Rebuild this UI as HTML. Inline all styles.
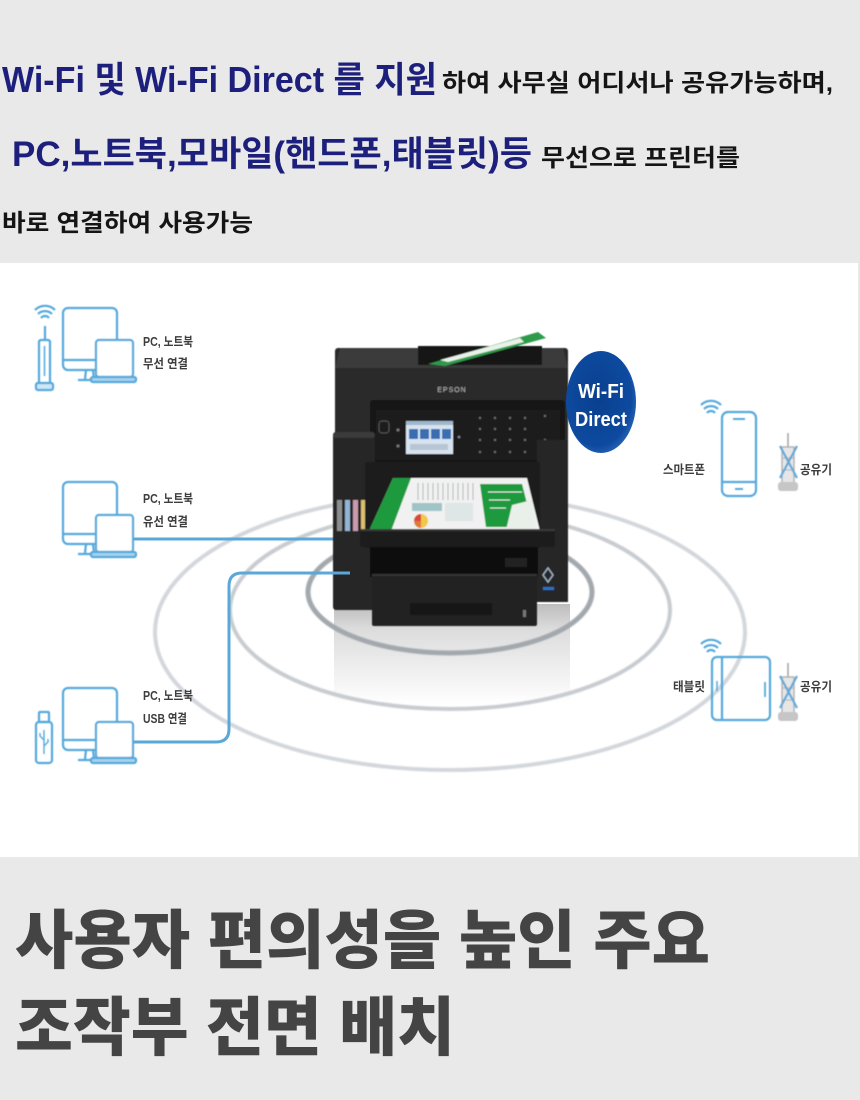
<!DOCTYPE html>
<html>
<head>
<meta charset="utf-8">
<style>
  html,body{margin:0;padding:0;background:#e9e9e9;}
  body{width:860px;height:1100px;overflow:hidden;position:relative;}
  svg{position:absolute;left:0;top:0;}
  .kr{font-family:"Liberation Sans","Noto Sans CJK KR","NanumGothic",sans-serif;}
</style>
</head>
<body>
<svg width="860" height="1100" viewBox="0 0 860 1100" xmlns="http://www.w3.org/2000/svg">
  <defs>
    <linearGradient id="refl" x1="0" y1="0" x2="0" y2="1">
      <stop offset="0" stop-color="#bdbdbd"/>
      <stop offset="0.25" stop-color="#dcdcdc"/>
      <stop offset="1" stop-color="#ffffff"/>
    </linearGradient>
    <radialGradient id="badge" cx="0.45" cy="0.45" r="0.6">
      <stop offset="0" stop-color="#0a3f8e"/>
      <stop offset="0.8" stop-color="#0d4a9f"/>
      <stop offset="1" stop-color="#2a67b8"/>
    </radialGradient>
    <filter id="soft" x="-5%" y="-5%" width="110%" height="110%">
      <feGaussianBlur stdDeviation="0.9"/>
    </filter>
    <filter id="soft2" x="-5%" y="-5%" width="110%" height="110%">
      <feGaussianBlur stdDeviation="0.5"/>
    </filter>
  </defs>

  <!-- backgrounds -->
  <rect x="0" y="0" width="860" height="1100" fill="#e9e9e9"/>
  <rect x="0" y="263" width="858" height="594" fill="#ffffff"/>

  <!-- TOP TEXT -->
  <g class="kr" font-weight="700">
    <text x="2" y="92" font-size="36" fill="#1d1f7c" textLength="435" lengthAdjust="spacingAndGlyphs">Wi-Fi 및 Wi-Fi Direct 를 지원</text>
    <text x="442" y="91" font-size="24" fill="#151515" textLength="391" lengthAdjust="spacingAndGlyphs">하여 사무실 어디서나 공유가능하며,</text>
    <text x="12" y="166" font-size="35" fill="#1d1f7c" textLength="520" lengthAdjust="spacingAndGlyphs">PC,노트북,모바일(핸드폰,태블릿)등</text>
    <text x="541" y="166" font-size="24" fill="#151515" textLength="199" lengthAdjust="spacingAndGlyphs">무선으로 프린터를</text>
    <text x="2" y="231" font-size="24" fill="#151515" textLength="251" lengthAdjust="spacingAndGlyphs">바로 연결하여 사용가능</text>
  </g>

  <!-- reflection under printer -->
  <rect x="334" y="604" width="236" height="100" fill="url(#refl)"/>

  <!-- rings -->
  <g fill="none" filter="url(#soft)">
    <ellipse cx="450" cy="632" rx="295" ry="138" stroke="#d3d7db" stroke-width="4"/>
    <ellipse cx="450" cy="610" rx="220" ry="99" stroke="#c8ccd0" stroke-width="4"/>
    <ellipse cx="450" cy="592" rx="142" ry="61" stroke="#a3a8ad" stroke-width="5"/>
  </g>

  <!-- wired cable -->
  <line x1="133" y1="539" x2="336" y2="539" stroke="#5aa8d8" stroke-width="3"/>

  <!-- PRINTER -->
  <g filter="url(#soft2)">
    <!-- upper body -->
    <rect x="335" y="348" width="233" height="96" rx="3" fill="#2a2a2a"/>
    <path d="M340 348 L563 348 L568 368 L335 368 Z" fill="#3b3b3b"/>
    <!-- ADF slot with paper -->
    <rect x="418" y="346" width="124" height="19" fill="#141414"/>
    <polygon points="428,364 538,332 546,338 445,366" fill="#2f9b4b"/>
    <polygon points="440,360 520,338 524,342 448,362" fill="#e8f2e8"/>
    <text x="452" y="392" font-family="Liberation Sans, sans-serif" font-size="7" fill="#b8b8b8" text-anchor="middle" letter-spacing="1">EPSON</text>
    <!-- control panel recess -->
    <rect x="370" y="400" width="195" height="64" rx="3" fill="#161616"/>
    <rect x="376" y="410" width="184" height="50" rx="2" fill="#1f1f1f"/>
    <rect x="379" y="421" width="10" height="12" rx="3" fill="none" stroke="#555" stroke-width="1"/>
    <circle cx="398" cy="430" r="1.5" fill="#777"/>
    <circle cx="398" cy="446" r="1.5" fill="#777"/>
    <!-- screen -->
    <rect x="406" y="421" width="47" height="33" fill="#d7e4ef"/>
    <rect x="406" y="421" width="47" height="4" fill="#9fb6cc"/>
    <rect x="409" y="429" width="9" height="10" fill="#3a6db3"/>
    <rect x="420" y="429" width="9" height="10" fill="#3a6db3"/>
    <rect x="431" y="429" width="9" height="10" fill="#3a6db3"/>
    <rect x="442" y="429" width="9" height="10" fill="#3a6db3"/>
    <rect x="410" y="444" width="38" height="6" fill="#b8c6d3"/>
    <circle cx="459" cy="437" r="1.3" fill="#888"/>
    <!-- keypad dots -->
    <g fill="#6a6a6a">
      <circle cx="480" cy="418" r="1.2"/><circle cx="495" cy="418" r="1.2"/><circle cx="510" cy="418" r="1.2"/><circle cx="525" cy="418" r="1.2"/><circle cx="545" cy="416" r="1.2"/>
      <circle cx="480" cy="429" r="1.2"/><circle cx="495" cy="429" r="1.2"/><circle cx="510" cy="429" r="1.2"/><circle cx="525" cy="429" r="1.2"/>
      <circle cx="480" cy="440" r="1.2"/><circle cx="495" cy="440" r="1.2"/><circle cx="510" cy="440" r="1.2"/><circle cx="525" cy="440" r="1.2"/><circle cx="545" cy="440" r="1.2"/>
      <circle cx="480" cy="452" r="1.2"/><circle cx="495" cy="452" r="1.2"/><circle cx="510" cy="452" r="1.2"/><circle cx="525" cy="452" r="1.2"/><circle cx="545" cy="452" r="1.2"/>
    </g>
    <!-- left ink tank -->
    <rect x="333" y="432" width="42" height="178" rx="3" fill="#262626"/>
    <rect x="333" y="432" width="42" height="6" rx="3" fill="#3a3a3a"/>
    <rect x="337" y="500" width="5" height="31" fill="#8d8d8d"/>
    <rect x="345" y="500" width="5" height="31" fill="#93b4d2"/>
    <rect x="353" y="500" width="5" height="31" fill="#c89aae"/>
    <rect x="361" y="500" width="5" height="31" fill="#d8be6e"/>
    <!-- right side panel -->
    <rect x="537" y="440" width="31" height="162" fill="#262626"/>
    <path d="M548 568 L553 575 L548 582 L543 575 Z" fill="none" stroke="#9fb4c8" stroke-width="1.4"/>
    <rect x="543" y="587" width="11" height="3" fill="#2d6fc4"/>
    <!-- middle / output tray -->
    <rect x="365" y="462" width="175" height="86" fill="#1c1c1c"/>
    <polygon points="393,478 527,478 540,531 369,531" fill="#f0f1f0"/>
    <polygon points="393,478 411,478 391,531 369,531" fill="#1f9a3e"/>
    <g stroke="#b3b8b8" stroke-width="1">
      <line x1="418" y1="483" x2="418" y2="500"/><line x1="423" y1="483" x2="423" y2="500"/><line x1="428" y1="483" x2="428" y2="500"/>
      <line x1="433" y1="483" x2="433" y2="500"/><line x1="438" y1="483" x2="438" y2="500"/><line x1="443" y1="483" x2="443" y2="500"/>
      <line x1="448" y1="483" x2="448" y2="500"/><line x1="453" y1="483" x2="453" y2="500"/><line x1="458" y1="483" x2="458" y2="500"/>
      <line x1="463" y1="483" x2="463" y2="500"/><line x1="468" y1="483" x2="468" y2="500"/><line x1="473" y1="483" x2="473" y2="500"/>
    </g>
    <rect x="412" y="503" width="30" height="8" fill="#9fc4c6"/>
    <rect x="445" y="503" width="28" height="18" fill="#dfe6e6"/>
    <circle cx="421" cy="521" r="7" fill="#f2c84b"/>
    <path d="M421 521 L414 521 A7 7 0 0 1 421 514 Z" fill="#d9463a"/>
    <path d="M421 521 L421 528 A7 7 0 0 1 414 521 Z" fill="#e07a3a"/>
    <polygon points="480,484 522,484 533,527 486,527" fill="#1f9a3e"/>
    <polygon points="512,505 532,500 536,530 506,530" fill="#e9efe9"/>
    <g stroke="#e0efe4" stroke-width="1">
      <line x1="488" y1="492" x2="522" y2="492"/><line x1="489" y1="500" x2="510" y2="500"/><line x1="490" y1="508" x2="506" y2="508"/>
    </g>
    <!-- tray front -->
    <rect x="360" y="529" width="195" height="18" rx="2" fill="#1e1e1e"/>
    <rect x="360" y="529" width="195" height="2" fill="#3a3a3a"/>
    <!-- lower body -->
    <rect x="370" y="547" width="168" height="30" fill="#0e0e0e"/>
    <rect x="505" y="558" width="22" height="9" fill="#222"/>
    <rect x="372" y="574" width="165" height="52" rx="2" fill="#232323"/>
    <rect x="372" y="574" width="165" height="2" fill="#353535"/>
    <rect x="410" y="603" width="82" height="12" rx="2" fill="#171717"/>
    <rect x="523" y="610" width="3" height="7" fill="#777"/>
  </g>

  <!-- USB cable -->
  <path d="M133 742 H216 Q229 742 229 729 V586 Q229 573 242 573 H350" fill="none" stroke="#5aa8d8" stroke-width="3"/>

  <!-- Wi-Fi Direct badge -->
  <ellipse cx="601" cy="402" rx="35" ry="51" fill="url(#badge)"/>
  <g font-family="Liberation Sans, sans-serif" font-weight="700" fill="#ffffff" text-anchor="middle">
    <text x="601" y="398" font-size="20" textLength="46" lengthAdjust="spacingAndGlyphs">Wi-Fi</text>
    <text x="601" y="426" font-size="20" textLength="52" lengthAdjust="spacingAndGlyphs">Direct</text>
  </g>

  <!-- LEFT DEVICES -->
  <g fill="none" stroke="#55a9dc" stroke-width="2.2" filter="url(#soft2)">
    <!-- device 1 -->
    <g>
      <rect x="63" y="308" width="54" height="62" rx="5"/>
      <line x1="63" y1="360" x2="96" y2="360"/>
      <path d="M86 370 L85 379 M93 370 L94 379"/>
      <line x1="78" y1="380" x2="100" y2="380"/>
      <rect x="96" y="340" width="37" height="37" rx="3" fill="#fff"/>
      <rect x="91" y="377" width="45" height="5" rx="2" fill="#a9d3ee"/>
    </g>
    <!-- router -->
    <path d="M41 318 A5 5 0 0 1 49 318"/>
    <path d="M38 314 A10 10 0 0 1 52 314"/>
    <path d="M35 310 A14 14 0 0 1 55 310"/>
    <line x1="45" y1="326" x2="45" y2="340"/>
    <rect x="39" y="340" width="11" height="44" rx="2"/>
    <line x1="44.5" y1="346" x2="44.5" y2="376" stroke-width="1.5"/>
    <rect x="36" y="383" width="17" height="7" rx="2" fill="#cfe6f5"/>

    <!-- device 2 -->
    <g transform="translate(0,174)">
      <rect x="63" y="308" width="54" height="62" rx="5"/>
      <line x1="63" y1="360" x2="96" y2="360"/>
      <path d="M86 370 L85 379 M93 370 L94 379"/>
      <line x1="78" y1="380" x2="100" y2="380"/>
      <rect x="96" y="341" width="37" height="37" rx="3" fill="#fff"/>
      <rect x="91" y="378" width="45" height="5" rx="2" fill="#a9d3ee"/>
    </g>

    <!-- device 3 -->
    <g transform="translate(0,380)">
      <rect x="63" y="308" width="54" height="62" rx="5"/>
      <line x1="63" y1="360" x2="96" y2="360"/>
      <path d="M86 370 L85 379 M93 370 L94 379"/>
      <line x1="78" y1="380" x2="100" y2="380"/>
      <rect x="96" y="342" width="37" height="36" rx="3" fill="#fff"/>
      <rect x="91" y="378" width="45" height="5" rx="2" fill="#a9d3ee"/>
    </g>
    <!-- usb stick -->
    <rect x="39" y="712" width="10" height="10" rx="1"/>
    <rect x="36" y="722" width="16" height="41" rx="3"/>
    <path d="M44 730 V754 M44 740 L40 736 V733 M44 746 L48 742 V739" stroke-width="1.4"/>
  </g>

  <!-- left labels -->
  <g class="kr" font-weight="700" fill="#3d3d3d" font-size="12.5">
    <text x="143" y="346" textLength="50" lengthAdjust="spacingAndGlyphs">PC, 노트북</text>
    <text x="143" y="368" textLength="45" lengthAdjust="spacingAndGlyphs">무선 연결</text>
    <text x="143" y="503" textLength="50" lengthAdjust="spacingAndGlyphs">PC, 노트북</text>
    <text x="143" y="526" textLength="45" lengthAdjust="spacingAndGlyphs">유선 연결</text>
    <text x="143" y="700" textLength="50" lengthAdjust="spacingAndGlyphs">PC, 노트북</text>
    <text x="143" y="723" textLength="44" lengthAdjust="spacingAndGlyphs">USB 연결</text>
  </g>

  <!-- RIGHT DEVICES -->
  <g fill="none" stroke="#55a9dc" stroke-width="2.2" filter="url(#soft2)">
    <!-- phone wifi -->
    <path d="M707 413 A5 5 0 0 1 715 413"/>
    <path d="M704 409 A10 10 0 0 1 718 409"/>
    <path d="M701 405 A14 14 0 0 1 721 405"/>
    <!-- phone -->
    <rect x="722" y="412" width="34" height="84" rx="6"/>
    <line x1="733" y1="419" x2="745" y2="419" stroke-width="2"/>
    <line x1="722" y1="482" x2="756" y2="482"/>
    <line x1="735" y1="489" x2="743" y2="489" stroke-width="2"/>
    <!-- tablet wifi -->
    <path d="M707 652 A5 5 0 0 1 715 652"/>
    <path d="M704 648 A10 10 0 0 1 718 648"/>
    <path d="M701 644 A14 14 0 0 1 721 644"/>
    <!-- tablet -->
    <rect x="712" y="657" width="58" height="63" rx="5"/>
    <line x1="722" y1="657" x2="722" y2="720"/>
    <line x1="717" y1="681" x2="717" y2="691" stroke-width="1.5"/>
    <line x1="765" y1="682" x2="765" y2="697" stroke-width="1.8"/>
  </g>

  <!-- crossed routers -->
  <g filter="url(#soft2)">
    <g>
      <line x1="788" y1="433" x2="788" y2="447" stroke="#a9a9a9" stroke-width="1.6"/>
      <rect x="782" y="447" width="12" height="36" fill="#e6e6e6" stroke="#b0b0b0" stroke-width="1.4"/>
      <line x1="782" y1="458" x2="794" y2="458" stroke="#b0b0b0" stroke-width="1"/>
      <line x1="782" y1="470" x2="794" y2="470" stroke="#b0b0b0" stroke-width="1"/>
      <rect x="778" y="482" width="20" height="9" rx="3" fill="#c6c6c6"/>
      <path d="M780 446 L797 478 M797 446 L780 478" stroke="#62a9d8" stroke-width="2.2" fill="none"/>
    </g>
    <g transform="translate(0,230)">
      <line x1="788" y1="433" x2="788" y2="447" stroke="#a9a9a9" stroke-width="1.6"/>
      <rect x="782" y="447" width="12" height="36" fill="#e6e6e6" stroke="#b0b0b0" stroke-width="1.4"/>
      <line x1="782" y1="458" x2="794" y2="458" stroke="#b0b0b0" stroke-width="1"/>
      <line x1="782" y1="470" x2="794" y2="470" stroke="#b0b0b0" stroke-width="1"/>
      <rect x="778" y="482" width="20" height="9" rx="3" fill="#c6c6c6"/>
      <path d="M780 446 L797 478 M797 446 L780 478" stroke="#62a9d8" stroke-width="2.2" fill="none"/>
    </g>
  </g>

  <!-- right labels -->
  <g class="kr" font-weight="700" fill="#3d3d3d" font-size="12.5">
    <text x="663" y="474" textLength="42" lengthAdjust="spacingAndGlyphs">스마트폰</text>
    <text x="800" y="474" textLength="32" lengthAdjust="spacingAndGlyphs">공유기</text>
    <text x="673" y="691" textLength="32" lengthAdjust="spacingAndGlyphs">태블릿</text>
    <text x="800" y="691" textLength="32" lengthAdjust="spacingAndGlyphs">공유기</text>
  </g>

  <!-- BOTTOM HEADING -->
  <g class="kr" font-weight="900" fill="#444444" font-size="64">
    <text x="15" y="963" textLength="695" lengthAdjust="spacingAndGlyphs">사용자 편의성을 높인 주요</text>
    <text x="15" y="1050" textLength="440" lengthAdjust="spacingAndGlyphs">조작부 전면 배치</text>
  </g>
</svg>
</body>
</html>
